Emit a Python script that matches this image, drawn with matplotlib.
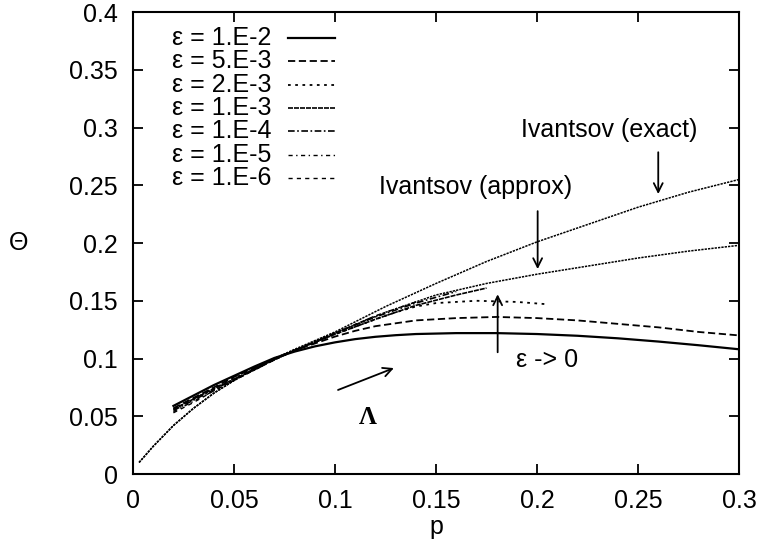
import matplotlib
matplotlib.use('Agg')
import matplotlib.pyplot as plt

plt.rcParams['font.family'] = ['Liberation Sans', 'DejaVu Sans']

# Ivantsov relations
p_iv = [0.003, 0.01, 0.02, 0.03, 0.04, 0.05, 0.06, 0.07, 0.08, 0.1,
        0.125, 0.15, 0.175, 0.2, 0.225, 0.25, 0.275, 0.3]
theta_exact = [0.010, 0.024, 0.042, 0.057, 0.070, 0.081, 0.091, 0.100, 0.108, 0.123,
               0.145, 0.165, 0.184, 0.201, 0.216, 0.231, 0.244, 0.255]
theta_approx = [0.010, 0.024, 0.042, 0.057, 0.070, 0.081, 0.091, 0.100, 0.107, 0.122,
                0.140, 0.155, 0.165, 0.173, 0.180, 0.187, 0.193, 0.198]

# solutions for each epsilon
eps_labels = ['ε = 1.E-2', 'ε = 5.E-3', 'ε = 2.E-3', 'ε = 1.E-3',
              'ε = 1.E-4', 'ε = 1.E-5', 'ε = 1.E-6']

p_e2 = [0.02, 0.03, 0.04, 0.05, 0.06, 0.07, 0.08, 0.09, 0.1, 0.11, 0.12, 0.13, 0.14,
        0.16, 0.18, 0.2, 0.22, 0.24, 0.26, 0.28, 0.3]
th_e2 = [0.059, 0.068, 0.077, 0.085, 0.093, 0.1005, 0.106, 0.1105, 0.114, 0.1168, 0.1188,
         0.1202, 0.1212, 0.122, 0.122, 0.1212, 0.1197, 0.1175, 0.1147, 0.1115, 0.108]

p_5e3 = [0.02, 0.03, 0.04, 0.05, 0.06, 0.07, 0.08, 0.09, 0.1, 0.11, 0.12, 0.14, 0.16, 0.18,
         0.2, 0.22, 0.24, 0.26, 0.28, 0.3]
th_5e3 = [0.057, 0.066, 0.075, 0.084, 0.092, 0.100, 0.107, 0.113, 0.119, 0.124, 0.128, 0.133,
          0.135, 0.136, 0.135, 0.133, 0.130, 0.127, 0.123, 0.120]

p_2e3 = [0.02, 0.03, 0.04, 0.05, 0.06, 0.07, 0.08, 0.1, 0.12, 0.13, 0.14, 0.15,
         0.17, 0.19, 0.205]
th_2e3 = [0.056, 0.065, 0.074, 0.083, 0.091, 0.099, 0.107, 0.121, 0.134, 0.140, 0.145, 0.148,
          0.150, 0.149, 0.147]

p_e3 = [0.02, 0.03, 0.04, 0.05, 0.06, 0.07, 0.08, 0.1, 0.12, 0.14, 0.16, 0.175]
th_e3 = [0.056, 0.065, 0.074, 0.082, 0.091, 0.099, 0.107, 0.121, 0.134, 0.146, 0.155, 0.161]

p_e4 = [0.02, 0.03, 0.04, 0.05, 0.06, 0.07, 0.08, 0.1, 0.12, 0.14, 0.16]
th_e4 = [0.055, 0.064, 0.073, 0.082, 0.090, 0.099, 0.107, 0.122, 0.136, 0.148, 0.158]

p_e5 = [0.02, 0.03, 0.04, 0.05, 0.06, 0.07, 0.08, 0.1, 0.12, 0.14]
th_e5 = [0.054, 0.063, 0.072, 0.081, 0.090, 0.099, 0.107, 0.122, 0.137, 0.149]

p_e6 = [0.02, 0.03, 0.04, 0.05, 0.06, 0.07, 0.08, 0.1, 0.12]
th_e6 = [0.053, 0.062, 0.072, 0.081, 0.090, 0.099, 0.107, 0.122, 0.137]

xticks = [0, 0.05, 0.1, 0.15, 0.2, 0.25, 0.3]
yticks = [0, 0.05, 0.1, 0.15, 0.2, 0.25, 0.3, 0.35, 0.4]

series = [(p_e2, th_e2, '-', 1.6),
          (p_5e3, th_5e3, (0, (4, 2)), 1.3),
          (p_2e3, th_2e3, (0, (1.5, 2.5)), 1.3),
          (p_e3, th_e3, (0, (3, 0.6)), 1.2),
          (p_e4, th_e4, (0, (4, 1.5, 1, 1.5)), 1.2),
          (p_e5, th_e5, (0, (3, 2.5, 1, 2.5)), 1.0),
          (p_e6, th_e6, (0, (3, 3)), 1.0)]

fig = plt.figure(figsize=(7.58, 5.41), dpi=100)
ax = fig.add_axes([0.1755, 0.1238, 0.7995, 0.854])

ax.plot(p_iv, theta_exact, color='black', lw=1.1, ls=(0, (1.5, 0.7)))
ax.plot(p_iv, theta_approx, color='black', lw=1.1, ls=(0, (1.5, 0.7)))

for (px, th, ls, lw) in series:
    ax.plot(px, th, color='black', ls=ls, lw=lw)

# legend drawn by hand, gnuplot style: label then line sample
for i, (lab, s) in enumerate(zip(eps_labels, series)):
    yy = 0.944 - i * 0.0506
    ax.text(0.229, yy, lab, transform=ax.transAxes, ha='right', va='center', fontsize=18)
    ax.plot([0.256, 0.333], [yy, yy], transform=ax.transAxes, color='black',
            ls=s[2], lw=s[3], clip_on=False)

arr = dict(arrowstyle='->', color='black', lw=1.3, mutation_scale=16)
ax.text(0.2355, 0.298, 'Ivantsov (exact)', ha='center', va='center', fontsize=18)
ax.annotate('', xy=(0.26, 0.240), xytext=(0.26, 0.281), arrowprops=arr)
ax.text(0.1696, 0.2485, 'Ivantsov (approx)', ha='center', va='center', fontsize=18)
ax.annotate('', xy=(0.2003, 0.175), xytext=(0.2003, 0.230), arrowprops=arr)
ax.annotate('', xy=(0.1805, 0.158), xytext=(0.1805, 0.103), arrowprops=arr)
ax.text(0.1894, 0.0985, 'ε -> 0', ha='left', va='center', fontsize=18)
ax.annotate('', xy=(0.1304, 0.0926), xytext=(0.1002, 0.0719), arrowprops=arr)
ax.text(0.116, 0.049, 'Λ', ha='center', va='center', fontsize=18,
        family='Liberation Serif', fontweight='bold')

ax.set_xlim(0, 0.3)
ax.set_ylim(0, 0.4)
ax.set_xticks(xticks)
ax.set_yticks(yticks)
ax.set_xticklabels(['0', '0.05', '0.1', '0.15', '0.2', '0.25', '0.3'])
ax.set_yticklabels(['0', '0.05', '0.1', '0.15', '0.2', '0.25', '0.3', '0.35', '0.4'])
ax.tick_params(direction='in', length=7, width=1.3, top=True, right=True,
               labelsize=18, pad=11)
for sp in ax.spines.values():
    sp.set_linewidth(1.5)
ax.set_xlabel('p', fontsize=18, labelpad=1)
ax.set_ylabel('Θ', fontsize=18, rotation=0, labelpad=36, va='center')

fig.savefig('out.png', dpi=100)
